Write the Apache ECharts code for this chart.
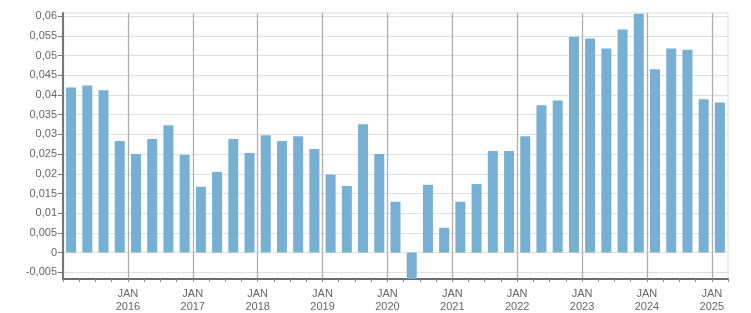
<!DOCTYPE html>
<html>
<head>
<meta charset="utf-8">
<script src="https://cdn.jsdelivr.net/npm/echarts@6/dist/echarts.min.js"></script>
<style>html,body{margin:0;padding:0;background:#fff;}#c{width:751px;height:313px;}</style>
</head>
<body>
<div id="c"></div>
<script>
const quarters = [
  '2015-Q1','2015-Q2','2015-Q3','2015-Q4',
  '2016-Q1','2016-Q2','2016-Q3','2016-Q4',
  '2017-Q1','2017-Q2','2017-Q3','2017-Q4',
  '2018-Q1','2018-Q2','2018-Q3','2018-Q4',
  '2019-Q1','2019-Q2','2019-Q3','2019-Q4',
  '2020-Q1','2020-Q2','2020-Q3','2020-Q4',
  '2021-Q1','2021-Q2','2021-Q3','2021-Q4',
  '2022-Q1','2022-Q2','2022-Q3','2022-Q4',
  '2023-Q1','2023-Q2','2023-Q3','2023-Q4',
  '2024-Q1','2024-Q2','2024-Q3','2024-Q4',
  '2025-Q1'
];
const values = [
  0.0419, 0.0424, 0.0412, 0.0283,
  0.0250, 0.0288, 0.0323, 0.0248,
  0.0167, 0.0205, 0.0288, 0.0253,
  0.0298, 0.0283, 0.0295, 0.0263,
  0.0198, 0.0169, 0.0326, 0.0250,
  0.0129, -0.0067, 0.0172, 0.0063,
  0.0129, 0.0174, 0.0258, 0.0258,
  0.0295, 0.0374, 0.0386, 0.0548,
  0.0543, 0.0518, 0.0566, 0.0606,
  0.0465, 0.0518, 0.0515, 0.0389,
  0.0381
];
const yTicks = [-0.005, 0, 0.005, 0.01, 0.015, 0.02, 0.025, 0.03, 0.035, 0.04, 0.045, 0.05, 0.055, 0.06];
const yearLabels = [2016, 2017, 2018, 2019, 2020, 2021, 2022, 2023, 2024, 2025];
const monthLabel = 'JAN';

const xStart = 2015, xEnd = 2025.25;
const yMin = -0.0067, yMax = 0.0608;

const points = quarters.map((q, i) => {
  const y = parseInt(q.slice(0, 4), 10);
  const k = parseInt(q.slice(6), 10);
  return [y + (k - 1) * 0.25 + 0.125, values[i]];
});

const font = 'Liberation Sans';
const chart = echarts.init(document.getElementById('c'), null, {renderer: 'canvas'});
const T = 'rgba(0,0,0,0)';
chart.setOption({
  animation: false,
  backgroundColor: '#fff',
  grid: {left: 63, right: 23, top: 13, bottom: 32, show: true, borderColor: '#dedede', borderWidth: 1, containLabel: false},
  xAxis: {
    type: 'value', min: xStart, max: xEnd, interval: 0.25,
    axisLine: {show: true, onZero: false, lineStyle: {color: '#6e6e6e', width: 2}},
    axisTick: {show: true, length: 3, lineStyle: {color: '#8a8a8a', width: 1}},
    splitLine: {show: true, showMinLine: true, showMaxLine: true, lineStyle: {color: ['#b0b0b0', T, T, T], width: 1.3}},
    axisLabel: {
      show: true, margin: 8, color: '#666', fontFamily: font, fontSize: 11, lineHeight: 13,
      formatter: function (v) {
        const r = Math.round(v);
        if (Math.abs(v - r) < 1e-6 && yearLabels.indexOf(r) >= 0) return monthLabel + '\n' + r;
        return '';
      }
    }
  },
  yAxis: {
    type: 'value', min: yMin, max: yMax, minInterval: 0.005, maxInterval: 0.005, splitNumber: 13,
    axisLine: {show: true, lineStyle: {color: '#777', width: 2}},
    axisTick: {show: true, length: 5, lineStyle: {color: '#777'}, customValues: yTicks},
    splitLine: {show: true, lineStyle: {color: '#e0e0e0', width: 1}},
    axisLabel: {
      show: true, margin: 6, color: '#666', fontFamily: font, fontSize: 11,
      customValues: yTicks,
      formatter: function (v) {
        const s = String(+v.toFixed(4));
        return s.replace('.', ',');
      }
    }
  },
  series: [{
    type: 'bar', data: points, barWidth: 10,
    itemStyle: {color: '#77b0d2'},
    clip: true
  }]
});
</script>
</body>
</html>
